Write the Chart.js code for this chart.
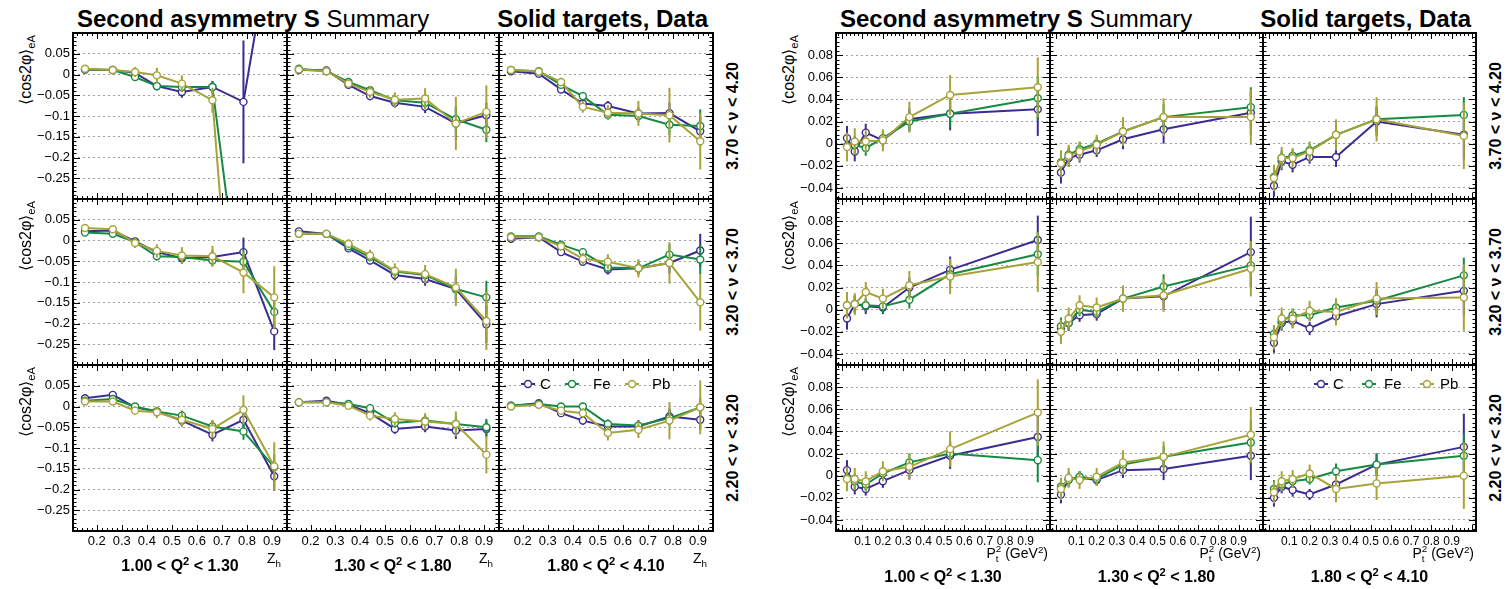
<!DOCTYPE html>
<html>
<head>
<meta charset="utf-8">
<script src="https://cdn.jsdelivr.net/npm/chart.js@4.4.1/dist/chart.umd.min.js"></script>
<style>
  body { margin: 0; background: #fff; width: 1506px; height: 589px; position: relative; overflow: hidden;
         font-family: 'Liberation Sans', Arial, sans-serif; color: #000; }
  canvas { position: absolute; }
  .t { position: absolute; white-space: nowrap; line-height: 1; }
  .title { font-size: 24px; top: 7px; }
  .ytitle { font-size: 16px; width: 100px; text-align: right; }
  .rot { transform: translate(-50%, -50%) rotate(-90deg); }
  .nu { font-size: 16px; font-weight: bold; }
  .q2 { font-size: 16px; font-weight: bold; transform: translate(-50%, -50%); }
  .axt { font-size: 14px; }
  .ss { display: inline-block; vertical-align: -0.35em; font-size: 0.7em; line-height: 1; }
  .ss span { display: block; }
  sup, sub { font-size: 0.7em; line-height: 0; }
</style>
</head>
<body>
<script>
// ---- labels / ticks ----
const seriesNames = ['C', 'Fe', 'Pb'];
const seriesColors = ['#3b2c92', '#178a42', '#a6a338'];
const nuLabels = ['3.70 &lt; ν &lt; 4.20', '3.20 &lt; ν &lt; 3.70', '2.20 &lt; ν &lt; 3.20'];
const q2Labels = ['1.00 &lt; Q<sup>2</sup> &lt; 1.30', '1.30 &lt; Q<sup>2</sup> &lt; 1.80', '1.80 &lt; Q<sup>2</sup> &lt; 4.10'];

const zhBins = [0.153, 0.264, 0.353, 0.44, 0.54, 0.662, 0.786, 0.909];
const ptBins = [0.024, 0.062, 0.116, 0.2, 0.33, 0.53, 0.96];
const zhXTicks = [0.2, 0.3, 0.4, 0.5, 0.6, 0.7, 0.8, 0.9];
const ptXTicks = [0.1, 0.2, 0.3, 0.4, 0.5, 0.6, 0.7, 0.8, 0.9];
const zhYTicks = [-0.25, -0.2, -0.15, -0.1, -0.05, 0, 0.05];
const ptYTicks = [-0.04, -0.02, 0, 0.02, 0.04, 0.06, 0.08];

// ---- <cos2phi> vs z_h, one row per subplot: r0c0, r0c1, r0c2, r1c0 ... (row 0 = 3.70<nu<4.20) ----
const zhC = [
  [0.012, 0.011, 0.004, -0.028, -0.042, -0.030, -0.066, 0.37],
  [0.011, 0.010, -0.025, -0.052, -0.068, -0.078, -0.118, -0.098],
  [0.008, 0.002, -0.036, -0.070, -0.076, -0.094, -0.093, -0.137],
  [0.022, 0.024, -0.002, -0.028, -0.043, -0.040, -0.028, -0.219],
  [0.022, 0.016, -0.019, -0.048, -0.083, -0.093, -0.117, -0.202],
  [0.004, 0.008, -0.028, -0.051, -0.070, -0.067, -0.054, -0.024],
  [0.020, 0.028, -0.002, -0.012, -0.034, -0.068, -0.032, -0.168],
  [0.010, 0.014, 0.004, -0.016, -0.054, -0.048, -0.058, -0.054],
  [0.002, 0.008, -0.016, -0.034, -0.048, -0.048, -0.024, -0.032]
];
const zhCErr = [
  [0.004, 0.005, 0.006, 0.010, 0.014, 0.014, 0.148, 0.200],
  [0.004, 0.005, 0.007, 0.010, 0.012, 0.015, 0.040, 0.030],
  [0.004, 0.005, 0.007, 0.010, 0.012, 0.015, 0.025, 0.035],
  [0.004, 0.005, 0.007, 0.010, 0.013, 0.016, 0.035, 0.045],
  [0.004, 0.005, 0.007, 0.010, 0.013, 0.016, 0.030, 0.045],
  [0.004, 0.005, 0.007, 0.010, 0.012, 0.015, 0.025, 0.040],
  [0.004, 0.005, 0.007, 0.010, 0.013, 0.016, 0.025, 0.035],
  [0.004, 0.005, 0.006, 0.009, 0.012, 0.014, 0.020, 0.020],
  [0.004, 0.005, 0.007, 0.010, 0.012, 0.014, 0.020, 0.025]
];
const zhFe = [
  [0.012, 0.011, -0.006, -0.028, -0.030, -0.030, -0.61, -0.60],
  [0.014, 0.008, -0.018, -0.038, -0.062, -0.068, -0.108, -0.133],
  [0.011, 0.008, -0.025, -0.052, -0.097, -0.100, -0.121, -0.124],
  [0.019, 0.016, -0.004, -0.038, -0.040, -0.048, -0.051, -0.172],
  [0.016, 0.016, -0.014, -0.040, -0.075, -0.083, -0.117, -0.137],
  [0.010, 0.010, -0.010, -0.028, -0.065, -0.067, -0.034, -0.046],
  [0.014, 0.018, 0.000, -0.012, -0.022, -0.048, -0.060, -0.146],
  [0.010, 0.010, 0.006, -0.004, -0.040, -0.034, -0.042, -0.050],
  [0.002, 0.006, 0.000, 0.000, -0.042, -0.046, -0.028, -0.002]
];
const zhFeErr = [
  [0.004, 0.005, 0.007, 0.010, 0.012, 0.014, 0.100, 0.100],
  [0.004, 0.005, 0.007, 0.010, 0.012, 0.014, 0.030, 0.030],
  [0.004, 0.005, 0.007, 0.010, 0.012, 0.014, 0.025, 0.040],
  [0.004, 0.005, 0.007, 0.010, 0.012, 0.014, 0.030, 0.040],
  [0.004, 0.005, 0.007, 0.010, 0.012, 0.014, 0.030, 0.040],
  [0.004, 0.005, 0.007, 0.010, 0.012, 0.014, 0.025, 0.035],
  [0.004, 0.005, 0.007, 0.010, 0.012, 0.014, 0.020, 0.030],
  [0.004, 0.005, 0.006, 0.009, 0.011, 0.013, 0.018, 0.020],
  [0.004, 0.005, 0.007, 0.009, 0.011, 0.013, 0.018, 0.022]
];
const zhPb = [
  [0.014, 0.011, 0.006, -0.002, -0.022, -0.062, -1.0, -0.8],
  [0.012, 0.008, -0.022, -0.042, -0.061, -0.058, -0.118, -0.090],
  [0.011, 0.007, -0.018, -0.078, -0.092, -0.094, -0.098, -0.161],
  [0.030, 0.027, -0.006, -0.025, -0.036, -0.038, -0.077, -0.137],
  [0.016, 0.016, -0.008, -0.036, -0.073, -0.081, -0.113, -0.194],
  [0.008, 0.008, -0.014, -0.044, -0.051, -0.067, -0.054, -0.149],
  [0.012, 0.012, -0.010, -0.014, -0.032, -0.054, -0.008, -0.144],
  [0.010, 0.010, 0.002, -0.022, -0.030, -0.036, -0.042, -0.116],
  [0.000, 0.004, -0.010, -0.016, -0.064, -0.056, -0.034, -0.002]
];
const zhPbErr = [
  [0.005, 0.006, 0.012, 0.018, 0.020, 0.030, 0.150, 0.150],
  [0.005, 0.006, 0.010, 0.014, 0.018, 0.025, 0.064, 0.064],
  [0.005, 0.006, 0.010, 0.014, 0.018, 0.030, 0.066, 0.068],
  [0.005, 0.006, 0.012, 0.016, 0.020, 0.025, 0.050, 0.075],
  [0.005, 0.006, 0.010, 0.014, 0.018, 0.022, 0.045, 0.070],
  [0.005, 0.006, 0.010, 0.014, 0.018, 0.022, 0.050, 0.068],
  [0.005, 0.006, 0.010, 0.014, 0.018, 0.022, 0.035, 0.058],
  [0.005, 0.006, 0.008, 0.012, 0.016, 0.020, 0.030, 0.045],
  [0.005, 0.006, 0.009, 0.012, 0.018, 0.020, 0.045, 0.065]
];

// ---- <cos2phi> vs P_t^2 ----
const ptC = [
  [0.005, -0.007, 0.010, 0.003, 0.022, 0.027, 0.031],
  [-0.026, -0.013, -0.010, -0.006, 0.004, 0.013, 0.028],
  [-0.038, -0.016, -0.019, -0.012, -0.012, 0.020, 0.008],
  [-0.008, 0.005, 0.003, 0.002, 0.020, 0.036, 0.063],
  [-0.017, -0.012, -0.005, -0.004, 0.010, 0.012, 0.052],
  [-0.030, -0.012, -0.010, -0.017, -0.006, 0.005, 0.017],
  [0.005, -0.010, -0.012, -0.005, 0.005, 0.018, 0.035],
  [-0.017, -0.003, -0.002, -0.004, 0.005, 0.006, 0.018],
  [-0.020, -0.010, -0.013, -0.017, -0.008, 0.010, 0.026]
];
const ptCErr = [
  [0.011, 0.009, 0.008, 0.006, 0.010, 0.015, 0.024],
  [0.010, 0.008, 0.007, 0.006, 0.009, 0.013, 0.020],
  [0.010, 0.008, 0.007, 0.006, 0.009, 0.013, 0.022],
  [0.010, 0.008, 0.007, 0.006, 0.009, 0.012, 0.022],
  [0.009, 0.007, 0.006, 0.006, 0.008, 0.012, 0.032],
  [0.009, 0.007, 0.006, 0.006, 0.008, 0.012, 0.022],
  [0.009, 0.007, 0.006, 0.006, 0.008, 0.012, 0.025],
  [0.008, 0.006, 0.006, 0.005, 0.007, 0.010, 0.022],
  [0.008, 0.006, 0.006, 0.005, 0.008, 0.010, 0.030]
];
const ptFe = [
  [-0.002, -0.001, -0.004, 0.005, 0.020, 0.027, 0.041],
  [-0.017, -0.010, -0.005, 0.000, 0.011, 0.024, 0.033],
  [-0.030, -0.013, -0.011, -0.006, 0.008, 0.022, 0.026],
  [0.004, 0.005, 0.004, 0.003, 0.009, 0.032, 0.050],
  [-0.015, -0.012, 0.000, -0.002, 0.010, 0.021, 0.040],
  [-0.022, -0.010, -0.005, -0.005, 0.002, 0.008, 0.031],
  [-0.002, -0.005, -0.008, 0.002, 0.012, 0.020, 0.014],
  [-0.010, -0.004, -0.001, -0.003, 0.010, 0.017, 0.030],
  [-0.012, -0.008, -0.005, -0.003, 0.004, 0.010, 0.018]
];
const ptFeErr = [
  [0.009, 0.008, 0.007, 0.006, 0.009, 0.012, 0.020],
  [0.009, 0.007, 0.006, 0.006, 0.008, 0.012, 0.018],
  [0.009, 0.007, 0.006, 0.006, 0.008, 0.012, 0.016],
  [0.009, 0.007, 0.006, 0.006, 0.008, 0.012, 0.020],
  [0.008, 0.007, 0.006, 0.005, 0.008, 0.011, 0.020],
  [0.008, 0.007, 0.006, 0.005, 0.008, 0.011, 0.016],
  [0.008, 0.007, 0.006, 0.005, 0.008, 0.011, 0.020],
  [0.008, 0.006, 0.005, 0.005, 0.007, 0.010, 0.020],
  [0.008, 0.006, 0.005, 0.005, 0.007, 0.010, 0.020]
];
const ptPb = [
  [-0.003, 0.002, 0.002, 0.003, 0.024, 0.044, 0.051],
  [-0.018, -0.011, -0.007, -0.001, 0.011, 0.024, 0.024],
  [-0.031, -0.013, -0.013, -0.007, 0.008, 0.022, 0.007],
  [0.004, 0.005, 0.016, 0.010, 0.022, 0.030, 0.043],
  [-0.020, -0.008, 0.004, 0.002, 0.010, 0.013, 0.037],
  [-0.025, -0.008, -0.008, -0.001, -0.002, 0.010, 0.011],
  [-0.003, -0.003, -0.005, 0.004, 0.008, 0.024, 0.057],
  [-0.012, -0.002, -0.004, -0.001, 0.012, 0.017, 0.037],
  [-0.015, -0.005, -0.003, 0.002, -0.012, -0.007, 0.000]
];
const ptPbErr = [
  [0.013, 0.012, 0.010, 0.010, 0.014, 0.018, 0.027],
  [0.012, 0.010, 0.009, 0.009, 0.013, 0.017, 0.025],
  [0.012, 0.010, 0.009, 0.009, 0.014, 0.020, 0.030],
  [0.012, 0.010, 0.009, 0.009, 0.013, 0.016, 0.027],
  [0.011, 0.010, 0.009, 0.009, 0.012, 0.015, 0.025],
  [0.011, 0.010, 0.009, 0.009, 0.012, 0.015, 0.030],
  [0.011, 0.010, 0.009, 0.009, 0.012, 0.016, 0.030],
  [0.010, 0.009, 0.008, 0.008, 0.011, 0.014, 0.025],
  [0.010, 0.009, 0.008, 0.008, 0.012, 0.015, 0.030]
];

// ---- layout ----
const rowsY = [33, 199, 365, 531];
const panels = [
  { cols: [73, 287, 499, 713], xs: zhBins, xMin: 0.105, xMax: 0.96, yMin: -0.3, yMax: 0.1,
    xTicks: zhXTicks, yTicks: zhYTicks, xMajor: 0.1, xMinor: 0.02, yMajor: 0.05, yMinor: 0.01,
    vals: [zhC, zhFe, zhPb], errs: [zhCErr, zhFeErr, zhPbErr], q2Y: 566, xFont: 13,
    legend: { mark: [29, 73, 133], text: [41, 94, 153] } },
  { cols: [836, 1050, 1263, 1476], xs: ptBins, xMin: -0.03, xMax: 1.02, yMin: -0.05, yMax: 0.1,
    xTicks: ptXTicks, yTicks: ptYTicks, xMajor: 0.1, xMinor: 0.02, yMajor: 0.02, yMinor: 0.004,
    vals: [ptC, ptFe, ptPb], errs: [ptCErr, ptFeErr, ptPbErr], q2Y: 577, xFont: 12,
    legend: { mark: [58, 106, 164], text: [70, 121, 177] } }
];

const fontFam = "'Liberation Sans', Arial, sans-serif";
const fmt = v => (Math.abs(v) < 1e-9 ? '0' : String(+v.toFixed(3)).replace('-', '\u2212'));

function addText(html, cls, style) {
  const d = document.createElement('div');
  d.className = 't ' + cls;
  d.innerHTML = html;
  Object.assign(d.style, style);
  document.body.appendChild(d);
  return d;
}

// error bars drawn under each dataset
const errorBars = {
  id: 'errorBars',
  beforeDatasetDraw(chart, args) {
    const ds = chart.data.datasets[args.index];
    const { ctx, chartArea: a, scales: { x, y } } = chart;
    ctx.save();
    ctx.beginPath();
    ctx.rect(a.left, a.top, a.right - a.left, a.bottom - a.top);
    ctx.clip();
    ctx.strokeStyle = ds.borderColor;
    ctx.lineWidth = 2;
    ds.data.forEach((p, i) => {
      const px = x.getPixelForValue(p.x);
      ctx.beginPath();
      ctx.moveTo(px, y.getPixelForValue(p.y + ds.errors[i]));
      ctx.lineTo(px, y.getPixelForValue(p.y - ds.errors[i]));
      ctx.stroke();
    });
    ctx.restore();
  }
};

// ROOT-like frame with inward ticks on all sides
const rootFrame = {
  id: 'rootFrame',
  afterDraw(chart, args, o) {
    const { ctx, chartArea: a, scales: { x, y } } = chart;
    ctx.save();
    ctx.strokeStyle = '#000';
    ctx.lineWidth = 1;
    const marks = (min, max, step, major) => {
      const out = [];
      for (let n = Math.ceil(min / step - 1e-9); n <= Math.floor(max / step + 1e-9); n++) {
        const v = n * step, q = v / major;
        out.push({ v, big: Math.abs(q - Math.round(q)) < 1e-6 });
      }
      return out;
    };
    ctx.beginPath();
    marks(y.min, y.max, o.yMinor, o.yMajor).forEach(m => {
      const py = Math.round(y.getPixelForValue(m.v)) + 0.5, len = m.big ? 7 : 3.5;
      ctx.moveTo(a.left, py); ctx.lineTo(a.left + len, py);
      ctx.moveTo(a.right, py); ctx.lineTo(a.right - len, py);
    });
    marks(x.min, x.max, o.xMinor, o.xMajor).forEach(m => {
      const px = Math.round(x.getPixelForValue(m.v)) + 0.5, len = m.big ? 6 : 3;
      ctx.moveTo(px, a.bottom); ctx.lineTo(px, a.bottom - len);
      ctx.moveTo(px, a.top); ctx.lineTo(px, a.top + len);
    });
    ctx.stroke();
    ctx.lineWidth = 2;
    ctx.strokeRect(a.left, a.top, a.right - a.left, a.bottom - a.top);
    ctx.restore();
  }
};

// legend: line + open circle + name
const rootLegend = {
  id: 'rootLegend',
  afterDraw(chart, args, o) {
    if (!o.mark) return;
    const { ctx, chartArea: a } = chart;
    const yy = a.top + 19;
    ctx.save();
    chart.data.datasets.forEach((ds, k) => {
      const mx = a.left + o.mark[k];
      ctx.strokeStyle = ds.borderColor;
      ctx.lineWidth = 2;
      ctx.beginPath(); ctx.moveTo(mx - 7, yy); ctx.lineTo(mx + 7, yy); ctx.stroke();
      ctx.beginPath(); ctx.arc(mx, yy, 3.5, 0, Math.PI * 2);
      ctx.fillStyle = '#fff'; ctx.fill();
      ctx.lineWidth = 1.4; ctx.stroke();
      ctx.fillStyle = '#000';
      ctx.font = '15px ' + fontFam;
      ctx.textBaseline = 'middle';
      ctx.fillText(ds.label, a.left + o.text[k], yy + 1);
    });
    ctx.restore();
  }
};

function makeChart(p, r, c) {
  const fl = p.cols[c], fr = p.cols[c + 1], ft = rowsY[r], fb = rowsY[r + 1];
  const L = c === 0 ? 70 : 2, R = 2, T = 2, B = r === 2 ? 30 : 2;
  const cv = document.createElement('canvas');
  cv.width = fr - fl + L + R;
  cv.height = fb - ft + T + B;
  cv.style.left = (fl - L) + 'px';
  cv.style.top = (ft - T) + 'px';
  document.body.appendChild(cv);
  const idx = r * 3 + c;
  const datasets = seriesNames.map((name, k) => ({
    label: name,
    data: p.xs.map((x, i) => ({ x, y: p.vals[k][idx][i] })),
    errors: p.errs[k][idx],
    borderColor: seriesColors[k],
    borderWidth: 2,
    pointRadius: 3.5,
    pointBorderWidth: 1.4,
    pointBackgroundColor: '#fff',
    pointBorderColor: seriesColors[k],
    tension: 0,
    order: 2 - k
  }));
  const tickFont = { family: fontFam, size: 13 };
  new Chart(cv, {
    type: 'line',
    data: { datasets },
    options: {
      responsive: false,
      animation: false,
      devicePixelRatio: 1,
      layout: { autoPadding: false, padding: { top: T, right: R, left: 0, bottom: 0 } },
      plugins: {
        legend: { display: false },
        tooltip: { enabled: false },
        rootFrame: { xMajor: p.xMajor, xMinor: p.xMinor, yMajor: p.yMajor, yMinor: p.yMinor },
        rootLegend: (r === 2 && c === 2) ? p.legend : {}
      },
      scales: {
        x: {
          type: 'linear', min: p.xMin, max: p.xMax,
          afterBuildTicks: s => { s.ticks = p.xTicks.map(v => ({ value: v })); },
          afterFit: s => { s.height = B; s.paddingLeft = 0; s.paddingRight = 0; },
          grid: { display: false, drawTicks: false },
          border: { display: false },
          ticks: { display: r === 2, font: { family: fontFam, size: p.xFont }, color: '#000', padding: 3,
                   maxRotation: 0, autoSkip: false, callback: fmt }
        },
        y: {
          type: 'linear', min: p.yMin, max: p.yMax,
          afterBuildTicks: s => { s.ticks = p.yTicks.map(v => ({ value: v })); },
          afterFit: s => { s.width = L; s.paddingTop = 0; s.paddingBottom = 0; },
          grid: { color: '#a0a0a0', lineWidth: 1, drawTicks: false },
          border: { display: false, dash: [2, 3] },
          ticks: { display: c === 0, font: tickFont, color: '#000', padding: 3, autoSkip: false, callback: fmt }
        }
      }
    },
    plugins: [errorBars, rootFrame, rootLegend]
  });
}

panels.forEach((p, pi) => {
  // titles
  addText('<b>Second asymmetry S</b> Summary', 'title', { left: (p.cols[0] + 4) + 'px' });
  addText('<b>Solid targets, Data</b>', 'title', { right: (1506 - p.cols[3] + 5) + 'px' });
  for (let r = 0; r < 3; r++) {
    const mid = (rowsY[r] + rowsY[r + 1]) / 2;
    addText('⟨cos2φ⟩<sub>eA</sub>', 'ytitle rot', { left: (p.cols[0] - 47) + 'px', top: (rowsY[r] + 52) + 'px' });
    addText(nuLabels[r], 'nu rot', { left: (p.cols[3] + 20) + 'px', top: mid + 'px' });
    for (let c = 0; c < 3; c++) makeChart(p, r, c);
  }
  for (let c = 0; c < 3; c++) {
    const cx = (p.cols[c] + p.cols[c + 1]) / 2;
    addText(q2Labels[c], 'q2', { left: cx + 'px', top: p.q2Y + 'px' });
    if (pi === 0) {
      addText('Z<sub>h</sub>', 'axt', { left: (p.cols[c + 1] - 20) + 'px', top: '551px' });
    } else {
      addText('P<span class="ss"><span>2</span><span>t</span></span> (GeV<sup>2</sup>)', 'axt',
        { right: (1506 - p.cols[c + 1] + 2) + 'px', top: '544px' });
    }
  }
});
</script>
</body>
</html>
